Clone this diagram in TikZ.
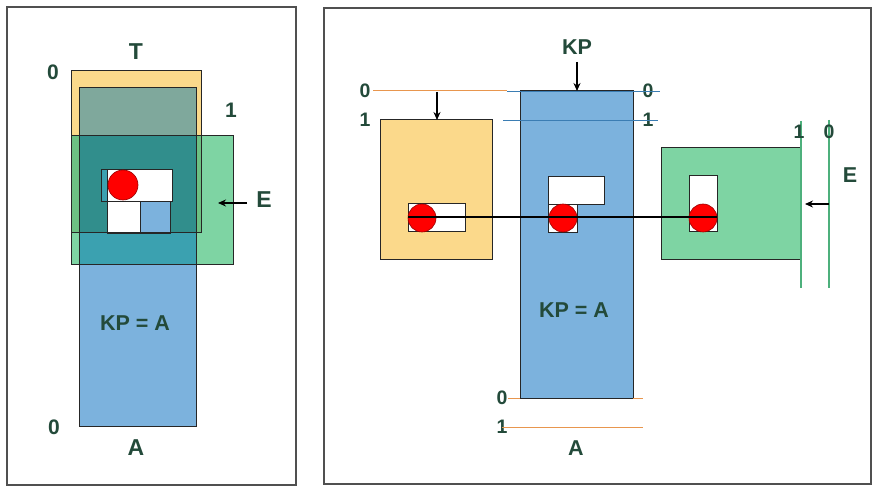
\documentclass[tikz,border=0pt]{standalone}
\usepackage{fontspec}
\setmainfont{Liberation Sans}
\usetikzlibrary{arrows.meta}
\definecolor{ylw}{HTML}{FBD98B}
\definecolor{blu}{HTML}{7CB2DD}
\definecolor{grn}{HTML}{7ED4A3}
\definecolor{yb}{HTML}{7FA89C}
\definecolor{yg}{HTML}{6DC083}
\definecolor{ybg}{HTML}{318E8C}
\definecolor{bg}{HTML}{3BA1B0}
\definecolor{txt}{HTML}{234A3A}
\definecolor{orl}{HTML}{E8964E}
\definecolor{bll}{HTML}{3B7DB3}
\definecolor{gnl}{HTML}{4DB07C}
\definecolor{frm}{HTML}{505050}
\tikzset{
  box/.style={draw=black!85, line width=1pt},
  lbl/.style={text=txt, font=\bfseries\fontsize{21.5}{21.5}\selectfont, inner sep=0pt},
  biglbl/.style={text=txt, font=\bfseries\fontsize{23}{23}\selectfont, inner sep=0pt},
  numl/.style={text=txt, font=\bfseries\fontsize{19.5}{19.5}\selectfont, inner sep=0pt},
  bignum/.style={text=txt, font=\bfseries\fontsize{21}{21}\selectfont, inner sep=0pt},
  ball/.style={circle, fill=red, draw=red!60!black, line width=0.6pt, minimum size=28pt, inner sep=0pt},
  arr/.style={-{Stealth[length=8pt,width=7pt]}, line width=1.2pt, black},
  panel/.style={draw=frm, line width=1.5pt},
  oline/.style={orl, line width=1pt}
}
\begin{document}
\begin{tikzpicture}[x=1pt,y=-1pt]
\useasboundingbox (0,0) rectangle (873,489);
\fill[white] (0,0) rectangle (873,489);
% frames
\draw[panel] (7,7) rectangle (296,485);
\draw[panel] (324,8) rectangle (871,484);

% ===== left panel =====
\fill[ylw] (71,71) rectangle (201,233);
\fill[blu] (79,88) rectangle (196,426);
\fill[yb] (79,88) rectangle (196,136);
\fill[grn] (71,136) rectangle (233,265);
\fill[yg] (71,136) rectangle (201,233);
\fill[bg] (79,136) rectangle (196,265);
\fill[ybg] (79,136) rectangle (196,233);
% inner boxes
\draw[box, fill=white] (101,170) rectangle (172,202);
\draw[box, fill=bg] (101,170) rectangle (107,202);
\draw[box, fill=white] (107,202) rectangle (140,234);
\draw[box, fill=blu] (140,202) rectangle (170,234);
\node[ball, minimum size=30pt] (lball) at (123,185) {};
% outlines
\draw[box] (71,71) rectangle (201,233);
\draw[box] (79,88) rectangle (196,426);
\draw[box] (71,136) rectangle (233,265);
% labels
\node[bignum] (l0t) at (53,72) {0};
\node[biglbl] (lT) at (136,52) {T};
\node[bignum] (l1) at (231,110) {1};
\node[biglbl] (lE) at (264,200) {E};
\coordinate (lEa) at (247,203);
\coordinate (lEb) at (218,203);
\draw[arr] (lEa) -- (lEb);
\node[lbl] (lKPA) at (135,323) {KP = A};
\node[bignum] (l0b) at (54,427) {0};
\node[biglbl] (lA) at (136,448) {A};

% ===== right panel =====
% reference lines
\node[numl] (r0y) at (365,91) {0};
\node[numl] (r1y) at (365,120) {1};
\coordinate (oyA) at (373,91);
\coordinate (oyB) at (507,91);
\draw[oline] (oyA) -- (oyB);
% yellow
\draw[box, fill=ylw] (380,120) rectangle (492,260);
\draw[box, fill=white] (408,204) rectangle (465,232);
% blue
\draw[box, fill=blu] (520,91) rectangle (633,398);
\draw[box, fill=white] (548,177) rectangle (604,205);
\draw[box, fill=white] (548,205) rectangle (577,233);
% green
\draw[box, fill=grn] (661,148) rectangle (801,260);
\draw[box, fill=white] (689,176) rectangle (717,232);
% blue top lines
\node[numl] (r0b) at (648,91) {0};
\node[numl] (r1b) at (648,120) {1};
\coordinate (bl0a) at (507,91);
\coordinate (bl0b) at (660,91);
\coordinate (bl1a) at (503,120);
\coordinate (bl1b) at (658,120);
\draw[bll, line width=0.9pt] (bl0a) -- (bl0b);
\draw[bll, line width=0.9pt] (bl1a) -- (bl1b);
\draw[box] (520,91) -- (633,91);
% arrows
\node[lbl] (rKP) at (577,47) {KP};
\coordinate (kpa) at (577,62);
\draw[arr] (kpa) -- (577,91);
\coordinate (ya) at (437,92);
\coordinate (yb) at (437,120);
\draw[arr] (ya) -- (yb);
% balls and line
\node[ball] (b1) at (422,218) {};
\node[ball] (b2) at (563,218) {};
\node[ball] (b3) at (703,218) {};
\coordinate (hl) at (408,217);
\coordinate (hr) at (717,217);
\draw[black, line width=1.5pt] (hl) -- (hr);
% green lines
\coordinate (g1t) at (801,121);
\coordinate (g1b) at (801,288);
\coordinate (g0t) at (829,120);
\coordinate (g0b) at (829,288);
\draw[gnl, line width=1.2pt] (g1t) -- (g1b);
\draw[gnl, line width=1.2pt] (g0t) -- (g0b);
\node[numl] (rg1) at (799,132) {1};
\node[numl] (rg0) at (829,132) {0};
\node[lbl] (rE) at (850,175) {E};
\coordinate (rEa) at (829,204);
\coordinate (rEb) at (805,204);
\draw[arr] (rEa) -- (rEb);
% bottom
\coordinate (ob0a) at (508,398);
\coordinate (ob0b) at (643,398);
\coordinate (ob1a) at (502,427);
\coordinate (ob1b) at (643,427);
\draw[oline] (ob0a) -- (ob0b);
\draw[box] (520,398) -- (633,398);
\node[numl] (rb0) at (502,398) {0};
\node[numl] (rb1) at (502,427) {1};
\draw[oline] (ob1a) -- (ob1b);
\node[lbl] (rA) at (576,448) {A};
\node[lbl] (rKPA) at (574,310) {KP = A};
\end{tikzpicture}
\end{document}
